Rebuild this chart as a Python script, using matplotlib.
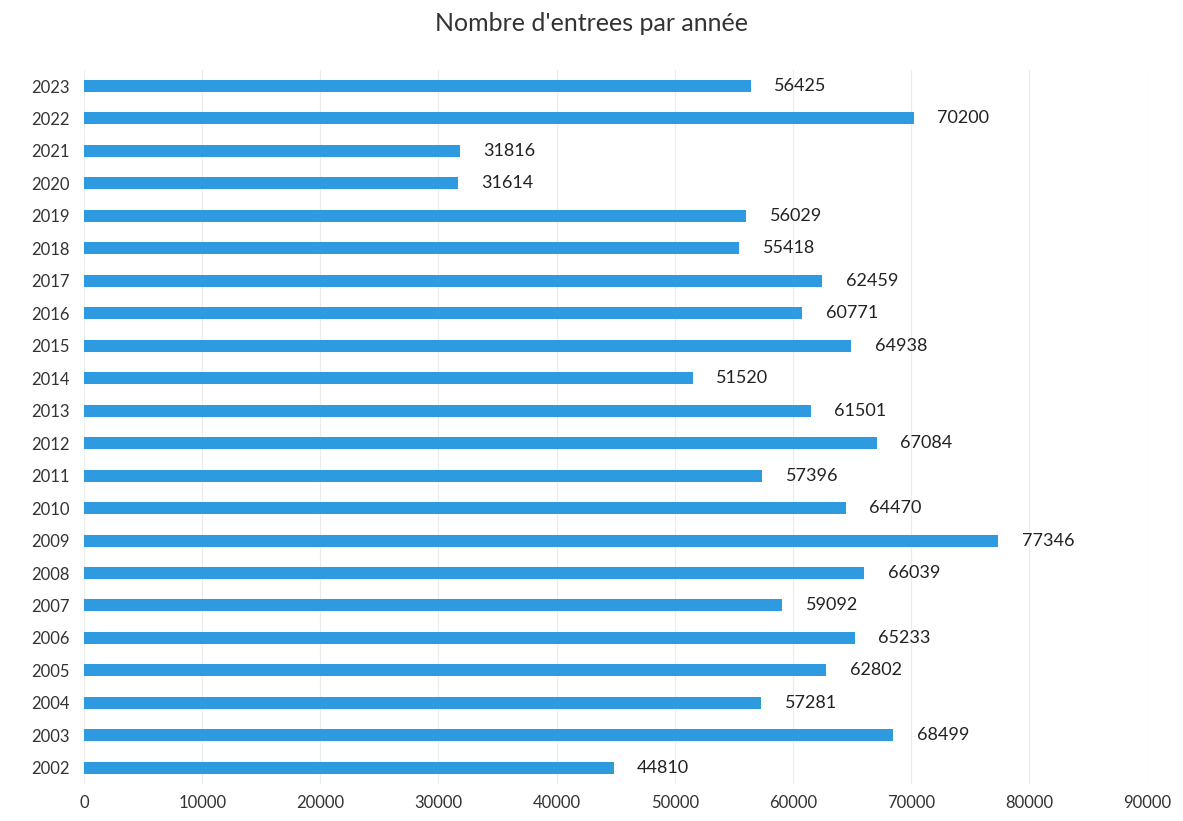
import matplotlib
matplotlib.use("Agg")
import matplotlib.pyplot as plt

years = [2002, 2003, 2004, 2005, 2006, 2007, 2008, 2009, 2010, 2011, 2012,
         2013, 2014, 2015, 2016, 2017, 2018, 2019, 2020, 2021, 2022, 2023]
entries = [44810, 68499, 57281, 62802, 65233, 59092, 66039, 77346, 64470, 57396, 67084,
           61501, 51520, 64938, 60771, 62459, 55418, 56029, 31614, 31816, 70200, 56425]
xticks = [0, 10000, 20000, 30000, 40000, 50000, 60000, 70000, 80000, 90000]
title = "Nombre d'entrees par année"

plt.rcParams['font.family'] = ['Lato', 'DejaVu Sans']

fig = plt.figure(figsize=(11.83, 8.21), dpi=100)
ax = fig.add_axes([0.071, 0.045, 0.899, 0.87])

pos = list(range(len(years)))
ax.barh(pos, entries, height=0.37, color='#2E9BE0', zorder=2)
for p, v in zip(pos, entries):
    ax.text(v + 2000, p, str(v), va='center', ha='left', fontsize=13, color='#222222')

ax.set_xlim(0, 90000)
ax.set_ylim(-0.5, len(years) - 0.5)
ax.set_yticks(pos)
ax.set_yticklabels([str(y) for y in years], fontsize=12, color='#333333')
ax.set_xticks(xticks)
ax.set_xticklabels([str(t) for t in xticks], fontsize=12, color='#333333')
ax.tick_params(axis='both', length=0)
ax.tick_params(axis='x', pad=8)
ax.tick_params(axis='y', pad=10)
ax.grid(axis='x', color='#ececec', linewidth=0.8, zorder=0)
for s in ax.spines.values():
    s.set_visible(False)

fig.suptitle(title, y=0.985, fontsize=18, color='#333333')

fig.savefig("out.png", dpi=100)
